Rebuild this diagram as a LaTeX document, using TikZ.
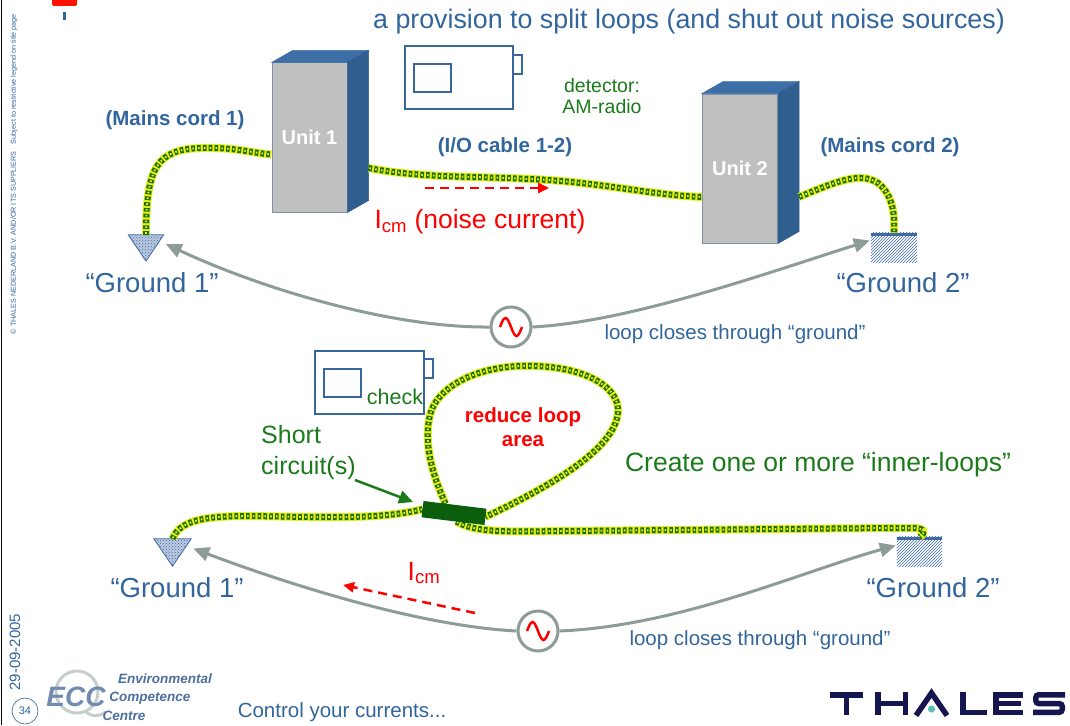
\documentclass[tikz,border=0pt]{standalone}
\usepackage{fontspec}
\setmainfont{Liberation Sans}
\usetikzlibrary{arrows.meta,patterns,calc}
\definecolor{txtblue}{HTML}{31659C}
\definecolor{txtgreen}{HTML}{1B7B1B}
\definecolor{shortgreen}{HTML}{0B5E0B}
\definecolor{cabley}{HTML}{E6EE1E}
\definecolor{cableg}{HTML}{1C6E00}
\definecolor{unitgray}{HTML}{C0C0C0}
\definecolor{unitedge}{HTML}{8391A8}
\definecolor{unitside}{HTML}{2F5E8F}
\definecolor{unittop}{HTML}{3D6FA6}
\definecolor{loopgray}{HTML}{8E9C98}
\definecolor{radioblue}{HTML}{3A66A0}
\definecolor{gndblue}{HTML}{3F69A6}
\definecolor{navy}{HTML}{15154F}
\definecolor{teal}{HTML}{5CC0B5}
\definecolor{logoblue}{HTML}{4E6E9E}
\newcommand{\fs}[1]{\fontsize{#1}{#1}\selectfont}
\begin{document}
\begin{tikzpicture}[x=1pt,y=-1pt,
  lbl/.style={inner sep=0pt, align=center},
  unitface/.style={draw=unitedge, fill=unitgray, line width=1pt, minimum width=75pt,
    minimum height=149pt, inner sep=0pt, text=white, font=\bfseries\fs{20}},
  unittopface/.style={fill=unittop, draw=unittop, line width=0.5pt},
  unitsideface/.style={fill=unitside, draw=unitside, line width=0.5pt},
  cable/.style={line width=8pt, draw=cabley,
    postaction={draw=cableg, line width=6pt, dash pattern=on 3.6pt off 2.2pt},
    postaction={draw=cabley, line width=2pt, dash pattern=on 1.6pt off 4.2pt, dash phase=-1pt}},
  gloop/.style={draw=loopgray, line width=3pt, -{Triangle[length=16pt,width=14pt]}},
  acsrc/.style={circle, draw=loopgray, line width=3pt, fill=white, minimum size=40pt, inner sep=0pt},
  radiobox/.style={draw=radioblue, line width=2pt},
  reddash/.style={draw=red, line width=2.5pt, dash pattern=on 9pt off 6pt, -{Triangle[length=11pt,width=10pt]}},
  gndbox/.style={minimum width=#1, inner sep=0pt},
  letter/.style={draw=navy, line width=5.5pt},
]
\useasboundingbox (0,0) rectangle (1070,725);

% page frame and header marks
\draw[black, line width=1.2pt] (1.5,0) -- (1.5,725);
\fill[red!85!orange, rounded corners=1.5pt] (52,-3) rectangle (77,6);
\fill[txtblue] (63,12) rectangle (66,20);
\node[lbl, rotate=90, text=txtblue] (legal) at (14,174)
  {\resizebox{320pt}{!}{\fs{6}© THALES NEDERLAND B.V. AND/OR ITS SUPPLIERS\quad Subject to restrictive legend on title page}};
\node[lbl, rotate=90, text=txtblue, font=\fs{15}] (date) at (15,652) {29-09-2005};
\node[circle, draw=txtblue, line width=0.6pt, minimum size=26pt, inner sep=0pt, font=\fs{11}, text=txtblue] (page) at (25,711) {34};

% title
\node[lbl, text=txtblue, font=\fs{26.8}] (title) at (689,22) {a provision to split loops (and shut out noise sources)};

% ---------------- upper scene ----------------
% detector radio
\draw[radiobox] (405,46) rectangle (513,109);
\draw[radiobox] (513,55) rectangle (522,74);
\draw[radiobox] (414,64) rectangle (451,92);
\node[lbl, text=txtgreen, font=\fs{19.5}] (det) at (602,96) {detector:\\[2pt]AM-radio};

% units
\node[unitface] (u1) at (309.5,137.5) {Unit 1};
\fill[unittopface] (u1.north west) -- ++(21,-12) -- ($(u1.north east)+(21,-12)$) -- (u1.north east) -- cycle;
\fill[unitsideface] (u1.north east) -- ++(21,-12) -- ($(u1.south east)+(21,-12)$) -- (u1.south east) -- cycle;
\node[unitface] (u2) at (740,168.5) {Unit 2};
\fill[unittopface] (u2.north west) -- ++(21,-12) -- ($(u2.north east)+(21,-12)$) -- (u2.north east) -- cycle;
\fill[unitsideface] (u2.north east) -- ++(21,-12) -- ($(u2.south east)+(21,-12)$) -- (u2.south east) -- cycle;

% grounds
\node[gndbox=35pt, minimum height=26pt] (g1) at (146,248) {};
\fill[gndblue!35] (g1.north west) -- (g1.north east) -- (g1.south) -- cycle;
\fill[pattern=crosshatch dots, pattern color=gndblue] (g1.north west) -- (g1.north east) -- (g1.south) -- cycle;
\draw[gndblue, line width=0.8pt] (g1.north west) -- (g1.north east) -- (g1.south) -- cycle;
\node[gndbox=46pt, minimum height=29pt] (g2) at (894,247.5) {};
\fill[pattern=north east lines, pattern color=gndblue] (g2.north west) rectangle (g2.south east);
\fill[gndblue] (g2.north west) rectangle ($(g2.north east)+(0,3.5)$);
\node[lbl, text=txtblue, font=\fs{27.5}] (g1lbl) at (152,283) {“Ground 1”};
\node[lbl, text=txtblue, font=\fs{27.5}] (g2lbl) at (903,283) {“Ground 2”};

% cables
\draw[cable] (g1.north) .. controls (146,165) and (158,150) .. (200,148)
  .. controls (235,147) and (252,153) .. ($(u1.west)+(0,17)$);
\draw[cable] ($(u1.east)+(21,30.5)$) .. controls (420,178) and (470,176) .. (530,179)
  .. controls (600,182) and (650,195) .. ($(u2.west)+(0,28.5)$);
\draw[cable] ($(u2.east)+(21,28.5)$) .. controls (840,180) and (860,172) .. (878,183)
  .. controls (893,195) and (895,215) .. (g2.north);
\node[lbl, text=txtblue, font=\bfseries\fs{20.5}] (mc1) at (175,120) {(Mains cord 1)};
\node[lbl, text=txtblue, font=\bfseries\fs{20.5}] (io) at (505,147) {(I/O cable 1-2)};
\node[lbl, text=txtblue, font=\bfseries\fs{20.5}] (mc2) at (890,147) {(Mains cord 2)};

% noise current
\coordinate (icmA) at (425,188);
\coordinate (icmB) at (549,188);
\draw[reddash] (icmA) -- (icmB);
\node[lbl, text=red, font=\fs{26.5}] (icm) at (480,222) {I\textsubscript{cm} (noise current)};

% loop through ground
\node[acsrc] (ac1) at (511,327) {};
\draw[red, line width=2.5pt] ($(ac1.center)+(-11,0)$) sin ++(5.5,-9) cos ++(5.5,9) sin ++(5.5,9) cos ++(5.5,-9);
\draw[gloop] (ac1.west) .. controls (390,328) and (260,288) .. ($(g1.east)+(2,-4)$);
\draw[gloop] (ac1.east) .. controls (630,322) and (770,272) .. ($(g2.west)+(-1,-7)$);
\node[lbl, text=txtblue, font=\fs{20.5}] (lc1) at (735,334) {loop closes through “ground”};

% ---------------- lower scene ----------------
% check radio
\draw[radiobox] (315,351) rectangle (424,414);
\draw[radiobox] (424,359) rectangle (433,378);
\draw[radiobox] (324,369) rectangle (361,397);
\node[lbl, text=txtgreen, font=\fs{21.5}] (chk) at (395,397) {check};

% grounds
\node[gndbox=37pt, minimum height=27pt] (g3) at (172.5,552.5) {};
\fill[gndblue!35] (g3.north west) -- (g3.north east) -- (g3.south) -- cycle;
\fill[pattern=crosshatch dots, pattern color=gndblue] (g3.north west) -- (g3.north east) -- (g3.south) -- cycle;
\draw[gndblue, line width=0.8pt] (g3.north west) -- (g3.north east) -- (g3.south) -- cycle;
\node[gndbox=45pt, minimum height=29pt] (g4) at (919.5,551.5) {};
\fill[pattern=north east lines, pattern color=gndblue] (g4.north west) rectangle (g4.south east);
\fill[gndblue] (g4.north west) rectangle ($(g4.north east)+(0,3.5)$);
\node[lbl, text=txtblue, font=\fs{27.5}] (g3lbl) at (177,588) {“Ground 1”};
\node[lbl, text=txtblue, font=\fs{27.5}] (g4lbl) at (933,588) {“Ground 2”};

% short circuit bar and cables
\node[minimum width=63pt, minimum height=16pt, inner sep=0pt, rotate=-7] (sc) at (454,513) {};
\draw[cable] (g3.north) .. controls (180,520) and (205,516) .. (250,516)
  .. controls (320,517) and (380,520) .. (sc.west);
\draw[cable] ($(sc.north west)!0.35!(sc.north east)$) .. controls (430,470) and (424,440) .. (430,415)
  .. controls (436,390) and (470,368) .. (520,366)
  .. controls (580,364) and (618,385) .. (618,410)
  .. controls (618,445) and (560,482) .. (sc.east);
\draw[cable] ($(sc.south west)!0.55!(sc.south east)$) .. controls (475,532) and (500,532) .. (560,531)
  .. controls (700,530) and (850,528) .. (913,528) .. controls (924,528) and (927,532) .. (g4.north);
\fill[shortgreen] (sc.north west) -- (sc.north east) -- (sc.south east) -- (sc.south west) -- cycle;

\node[lbl, align=left, anchor=west, text=txtgreen, font=\fs{25}] (shortlbl) at (261,453) {Short\\[6pt]circuit(s)};
\coordinate (sctip) at (413,502);
\draw[txtgreen, line width=2.5pt, -{Triangle[length=14pt,width=13pt]}] (355,480) -- (sctip);
\node[lbl, text=red, font=\bfseries\fs{20.5}] (redu) at (523,427) {reduce loop\\[4pt]area};
\node[lbl, text=txtgreen, font=\fs{26.5}] (inner) at (818,465) {Create one or more “inner-loops”};

% noise current and loop through ground
\coordinate (icmC) at (475,613);
\coordinate (icmD) at (343,585);
\draw[reddash] (icmC) -- (icmD);
\node[lbl, text=red, font=\fs{26.5}] (icm2) at (424,573) {I\textsubscript{cm}};
\node[acsrc] (ac2) at (538,631) {};
\draw[red, line width=2.5pt] ($(ac2.center)+(-11,0)$) sin ++(5.5,-9) cos ++(5.5,9) sin ++(5.5,9) cos ++(5.5,-9);
\draw[gloop] (ac2.west) .. controls (420,626) and (290,585) .. ($(g3.east)+(2,-4)$);
\draw[gloop] (ac2.east) .. controls (680,626) and (800,572) .. ($(g4.west)+(-1,-6)$);
\node[lbl, text=txtblue, font=\fs{20.5}] (lc2) at (760,640) {loop closes through “ground”};

% ---------------- footer ----------------
\draw[loopgray!50, line width=3pt] (77,692) circle[radius=21];
\draw[loopgray!50, line width=3pt] (85,711) .. controls (92,718) and (100,716) .. (106,712);
\node[lbl, text=logoblue!80, font=\bfseries\itshape\fs{28}] (ecc) at (76,697) {ECC};
\node[lbl, text=logoblue, font=\bfseries\itshape\fs{13.5}] (env) at (165,679) {Environmental};
\node[lbl, text=logoblue, font=\bfseries\itshape\fs{13.5}] (comp) at (150,698) {Competence};
\node[lbl, text=logoblue, font=\bfseries\itshape\fs{13.5}] (cent) at (124,716) {Centre};
\node[lbl, text=txtblue, font=\fs{20.5}] (ctrl) at (342,712) {Control your currents...};

% company wordmark
\draw[letter] (830,694.75) -- (863,694.75) (846.5,692) -- (846.5,715);
\draw[letter] (877.75,692) -- (877.75,715) (905.25,692) -- (905.25,715) (875,703.5) -- (908,703.5);
\draw[letter, line join=miter] (916,715.5) -- (931.5,693) -- (947,715.5);
\fill[teal] (931.5,709) circle[radius=3.6];
\draw[letter] (962.75,692) -- (962.75,715) (960,712.25) -- (987,712.25);
\draw[letter] (995.75,692) -- (995.75,715) (993,694.75) -- (1023,694.75) (993,703.5) -- (1021,703.5) (993,712.25) -- (1023,712.25);
\draw[letter, rounded corners=3pt] (1065,694.75) -- (1035.75,694.75) -- (1035.75,703.5) -- (1062.25,703.5) -- (1062.25,712.25) -- (1033,712.25);
\end{tikzpicture}
\end{document}
